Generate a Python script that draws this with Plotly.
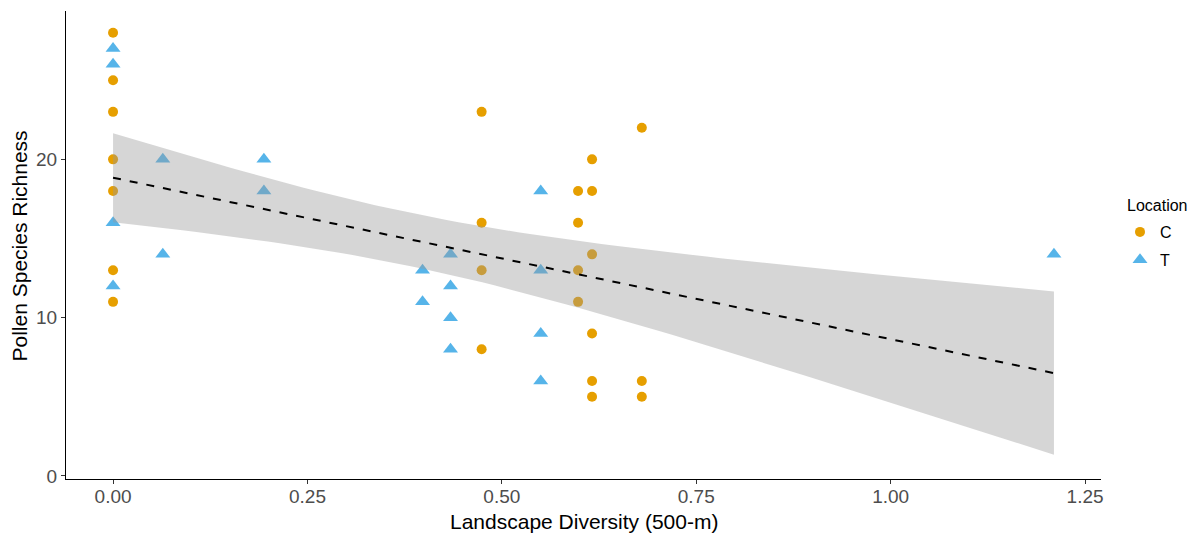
import numpy as np
import plotly.graph_objects as go

# ---- data ----
c_x = [0, 0, 0, 0, 0, 0, 0,
       0.474, 0.474, 0.474, 0.474,
       0.598, 0.598, 0.598, 0.598,
       0.616, 0.616, 0.616, 0.616, 0.616, 0.616,
       0.680, 0.680, 0.680]
c_y = [28, 25, 23, 20, 18, 13, 11,
       23, 16, 13, 8,
       18, 16, 13, 11,
       20, 18, 14, 9, 6, 5,
       22, 6, 5]
t_x = [0, 0, 0, 0,
       0.064, 0.064,
       0.194, 0.194,
       0.398, 0.398,
       0.434, 0.434, 0.434, 0.434,
       0.550, 0.550, 0.550, 0.550,
       1.210]
t_y = [27, 26, 16, 12,
       20, 14,
       20, 18,
       13, 11,
       14, 12, 10, 8,
       18, 13, 9, 6,
       14]
x_ticks = [0, 0.25, 0.5, 0.75, 1.0, 1.25]
x_tick_labels = ["0.00", "0.25", "0.50", "0.75", "1.00", "1.25"]
y_ticks = [0, 10, 20]
T_CRIT = 2.0195  # t(0.975, df=41)

# ---- linear fit with 95% CI (as geom_smooth(method='lm')) ----
X = np.array(c_x + t_x, dtype=float)
Y = np.array(c_y + t_y, dtype=float)
n = len(X)
b1, b0 = np.polyfit(X, Y, 1)
resid = Y - (b0 + b1 * X)
s = np.sqrt(np.sum(resid ** 2) / (n - 2))
xm = X.mean()
sxx = np.sum((X - xm) ** 2)
xs = np.linspace(X.min(), X.max(), 80)
yhat = b0 + b1 * xs
se = s * np.sqrt(1.0 / n + (xs - xm) ** 2 / sxx)
upper = yhat + T_CRIT * se
lower = yhat - T_CRIT * se

FONT = "Liberation Sans, Arial, sans-serif"
W, H = 1204, 535
ML, MR, MT, MB = 66, 103, 11, 56
PW, PH = W - ML - MR, H - MT - MB


def px_x(p):
    return (p - ML) / PW


def px_y(p):
    return (H - MB - p) / PH


fig = go.Figure()
fig.add_trace(go.Scatter(
    x=c_x, y=c_y, mode="markers", name="C", legendgroup="C",
    marker=dict(symbol="circle", size=10, color="#E69F00"),
))
fig.add_trace(go.Scatter(
    x=t_x, y=t_y, mode="markers", name="T", legendgroup="T",
    marker=dict(symbol="triangle-up", size=13, color="#56B4E9"),
))
fig.add_trace(go.Scatter(
    x=np.concatenate([xs, xs[::-1]]),
    y=np.concatenate([upper, lower[::-1]]),
    fill="toself", fillcolor="rgba(153,153,153,0.4)",
    line=dict(width=0), mode="lines", showlegend=False, hoverinfo="skip",
))
fig.add_trace(go.Scatter(
    x=xs, y=yhat, mode="lines", showlegend=False,
    line=dict(color="black", width=2, dash="8px,9px"),
))

fig.add_annotation(
    text="Location", xref="paper", yref="paper",
    x=px_x(1125), y=px_y(205), xanchor="left", yanchor="middle",
    showarrow=False, font=dict(family=FONT, size=16, color="black"),
)
fig.add_annotation(
    text="Landscape Diversity (500-m)", xref="paper", yref="paper",
    x=0.5, y=px_y(521), xanchor="center", yanchor="middle",
    showarrow=False, font=dict(family=FONT, size=21, color="black"),
)
fig.add_annotation(
    text="Pollen Species Richness", xref="paper", yref="paper",
    x=px_x(18.5), y=px_y(246), xanchor="center", yanchor="middle", textangle=-90,
    showarrow=False, font=dict(family=FONT, size=21, color="black"),
)

fig.update_layout(
    width=W, height=H,
    margin=dict(l=ML, r=MR, t=MT, b=MB),
    paper_bgcolor="white", plot_bgcolor="white",
    font=dict(family=FONT, color="black"),
    legend=dict(
        font=dict(family=FONT, size=16, color="black"),
        x=px_x(1120), xanchor="left", y=px_y(215), yanchor="top",
        bgcolor="rgba(0,0,0,0)", itemwidth=30, tracegroupgap=4,
    ),
    xaxis=dict(
        range=[-0.0605, 1.2705], tickvals=x_ticks, ticktext=x_tick_labels,
        showgrid=False, zeroline=False, showline=True, linecolor="black", linewidth=1.2,
        ticks="outside", ticklen=4, tickcolor="#333333", tickwidth=1,
        tickfont=dict(family=FONT, size=19, color="#4D4D4D"),
        ticklabelstandoff=-4, automargin=False,
    ),
    yaxis=dict(
        range=[-0.19, 29.37], tickvals=y_ticks,
        showgrid=False, zeroline=False, showline=True, linecolor="black", linewidth=1.2,
        ticks="outside", ticklen=4, tickcolor="#333333", tickwidth=1,
        tickfont=dict(family=FONT, size=19, color="#4D4D4D"),
        automargin=False,
    ),
)

fig.write_html("out.html")
